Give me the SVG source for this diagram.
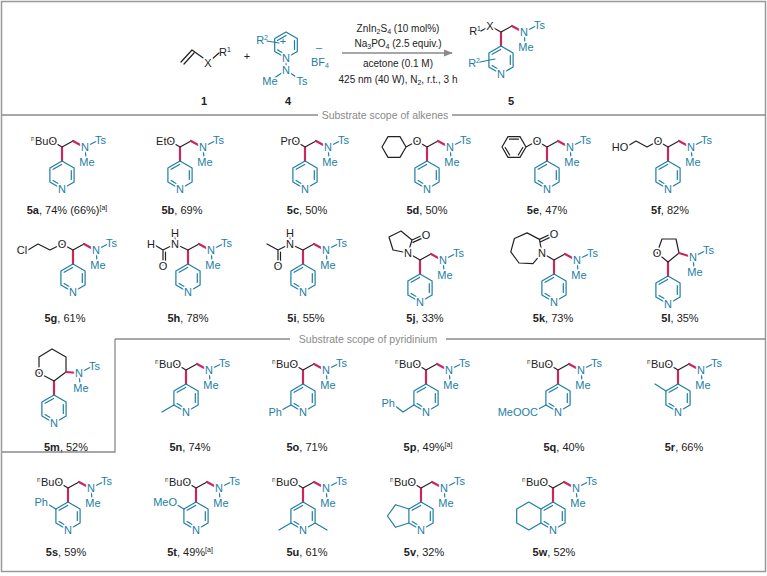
<svg xmlns="http://www.w3.org/2000/svg" xmlns:xlink="http://www.w3.org/1999/xlink" width="767" height="576" viewBox="0 0 767 576">
<style>
.k{stroke:#222;stroke-width:1.2;fill:none;stroke-linecap:round;stroke-linejoin:round}
.t{stroke:#1d7ea3;stroke-width:1.2;fill:none;stroke-linecap:round;stroke-linejoin:round}
.r{stroke:#c8285a;stroke-width:2.2;fill:none;stroke-linecap:round}
.g{stroke:#8a8a8a;stroke-width:1.3;fill:none}
text{font-family:"Liberation Sans",Arial,sans-serif;font-size:11px}
.a{paint-order:stroke;stroke:#fff;stroke-width:3.5px;stroke-linejoin:round}
.ak{fill:#222}
.at{fill:#1d7ea3}
.lb{fill:#222;text-anchor:middle}
.c{fill:#222;text-anchor:middle;font-size:10px}
.sep{fill:#8a8a8a;text-anchor:middle;font-size:10.5px}
.m{text-anchor:middle}
.e{text-anchor:end}
</style>
<defs>
<marker id="arr" viewBox="0 0 10 10" refX="9" refY="5" markerWidth="7" markerHeight="7" orient="auto"><path d="M0,1 L10,5 L0,9 Z" fill="#8a8a8a"/></marker>
<g id="tail">
<path class="t" d="M0,0 L12,-6 M0,0 L1,11"/>
<text class="a at m" x="0" y="4">N</text>
<text class="a at" x="10" y="-3">Ts</text>
<text class="a at m" x="2" y="19">Me</text>
</g>
<g id="pyr">
<path class="r" d="M0,0 L0,14"/>
<path class="t" d="M0,14 L12.1,21 L12.1,35 L0,42 L-12.1,35 L-12.1,21 Z M9.3,23.5 L9.3,32.5 M-8.9,22.3 L-0.4,17.4 M-1.5,37.9 L-8.9,33.6"/>
<text class="a at m" x="0" y="46">N</text>
</g>
<g id="core">
<use href="#pyr"/>
<path class="k" d="M0,0 L11,-6"/>
<path class="r" d="M11,-6 L22,0"/>
<use href="#tail" x="23" y="0"/>
</g>
</defs>

<rect x="1.5" y="1.5" width="764" height="570" fill="#fff" stroke="#999" stroke-width="1.5"/>

<g id="frame">
<path class="g" d="M2,115 H318 M452,115 H766 M115,339 H290 M446,339 H766 M115,339 V452 H2"/>
<text class="sep" x="385" y="119">Substrate scope of alkenes</text>
<text class="sep" x="368" y="343">Substrate scope of pyridinium</text>
</g>

<!-- Top scheme -->
<g id="r1">
<path class="k" d="M181,62 L192,50 M184,64 L194,53 M192,50 L206,60 M211,60 L219,53"/>
<text class="a ak m" x="208" y="67" font-size="10">X</text>
<text class="ak" x="219" y="56" font-size="10">R<tspan font-size="7" dy="-4">1</tspan></text>
<text class="lb" x="204" y="105" font-weight="bold">1</text>
</g>
<text class="ak m" x="247" y="60">+</text>
<g id="r4">
<path class="t" d="M286,32 L297.3,38.5 L297.3,51.5 L286,58 L274.7,51.5 L274.7,38.5 Z M294.5,40.5 L294.5,49.5 M277.5,40.5 L286,35.5 M284.5,54 L277.4,49.8 M267,41 L279,43 M286,58 L286,70 L273,79 M286,70 L299,79"/>
<text class="at e" x="268" y="44">R<tspan font-size="7" dy="-4">2</tspan></text>
<text class="at m" x="283" y="45" font-size="9">+</text>
<text class="a at m" x="286" y="62">N</text>
<text class="a at m" x="286" y="74">N</text>
<text class="a at m" x="270" y="85">Me</text>
<text class="a at m" x="302" y="85">Ts</text>
<text class="at m" x="319" y="51">–</text>
<text class="at m" x="320" y="66">BF<tspan font-size="7" dy="2">4</tspan></text>
<text class="lb" x="288" y="105" font-weight="bold">4</text>
</g>
<g id="cond">
<path class="g" d="M342,53 L452,53" marker-end="url(#arr)"/>
<text class="c" x="398" y="32">ZnIn<tspan font-size="7" dy="2">2</tspan><tspan dy="-2">S</tspan><tspan font-size="7" dy="2">4</tspan><tspan dy="-2"> (10 mol%)</tspan></text>
<text class="c" x="398" y="47">Na<tspan font-size="7" dy="2">3</tspan><tspan dy="-2">PO</tspan><tspan font-size="7" dy="2">4</tspan><tspan dy="-2"> (2.5 equiv.)</tspan></text>
<text class="c" x="398" y="67">acetone (0.1 M)</text>
<text class="c" x="398" y="83">425 nm (40 W), N<tspan font-size="7" dy="2">2</tspan><tspan dy="-2">, r.t., 3 h</tspan></text>
</g>
<g id="p5" transform="translate(501,32)">
<path class="k" d="M0,0 L-11,-6 L-20,-1"/>
<path class="t" d="M-21,30 L-6,27"/>
<use href="#core"/>
<text class="a ak m" x="-11" y="-2" font-size="10">X</text>
<text class="ak e" x="-20" y="3" font-size="10">R<tspan font-size="7" dy="-4">1</tspan></text>
<text class="at e" x="-21" y="35">R<tspan font-size="7" dy="-4">2</tspan></text>
</g>
<text class="lb" x="511" y="105" font-weight="bold">5</text>

<!-- Row 1 -->
<g id="c5a" transform="translate(62,147)"><path class="k" d="M0,0 L-10,-6"/><use href="#core"/>
<text class="a ak e" x="-5" y="-2"><tspan font-size="7" dy="-4">n</tspan><tspan dy="4">BuO</tspan></text></g>
<text class="lb" x="67" y="214"><tspan font-weight="bold">5a</tspan>, 74% (66%)<tspan font-size="7" dy="-4">[a]</tspan></text>

<g id="c5b" transform="translate(180,147)"><path class="k" d="M0,0 L-10,-6"/><use href="#core"/>
<text class="a ak e" x="-5" y="-2">EtO</text></g>
<text class="lb" x="182" y="214"><tspan font-weight="bold">5b</tspan>, 69%</text>

<g id="c5c" transform="translate(305,147)"><path class="k" d="M0,0 L-10,-6"/><use href="#core"/>
<text class="a ak e" x="-5" y="-2">PrO</text></g>
<text class="lb" x="307" y="214"><tspan font-weight="bold">5c</tspan>, 50%</text>

<g id="c5d" transform="translate(427,147)"><path class="k" d="M0,0 L-10,-6 L-21,0 M-21,0 L-27,-10.4 L-39,-10.4 L-45,0 L-39,10.4 L-27,10.4 Z"/><use href="#core"/>
<text class="a ak m" x="-10" y="-2">O</text></g>
<text class="lb" x="427" y="214"><tspan font-weight="bold">5d</tspan>, 50%</text>

<g id="c5e" transform="translate(547,147)"><path class="k" d="M0,0 L-10,-6 L-21,0 M-21,0 L-27,-10.4 L-39,-10.4 L-45,0 L-39,10.4 L-27,10.4 Z M-28.5,-7.8 L-37.5,-7.8 M-41.8,0.5 L-37.3,8 M-28.7,8 L-24.2,0.5"/><use href="#core"/>
<text class="a ak m" x="-10" y="-2">O</text></g>
<text class="lb" x="547" y="214"><tspan font-weight="bold">5e</tspan>, 47%</text>

<g id="c5f" transform="translate(668,147)"><path class="k" d="M0,0 L-10,-6 L-21,0 L-32,-6 L-42,0"/><use href="#core"/>
<text class="a ak m" x="-10" y="-2">O</text><text class="a ak m" x="-48" y="4">HO</text></g>
<text class="lb" x="670" y="214"><tspan font-weight="bold">5f</tspan>, 82%</text>

<!-- Row 2 -->
<g id="c5g" transform="translate(73,250)"><path class="k" d="M0,0 L-11,-6 L-23,0 L-35,-6 L-45,0"/><use href="#core"/>
<text class="a ak m" x="-11" y="-2">O</text><text class="a ak m" x="-51" y="4">Cl</text></g>
<text class="lb" x="65" y="322"><tspan font-weight="bold">5g</tspan>, 61%</text>

<g id="c5h" transform="translate(188,250)"><path class="k" d="M0,0 L-13,-6 L-13,-15 M-13,-6 L-25,0 L-35,-6 M-25,0 L-25,15 M-22.5,2 L-22.5,13"/><use href="#core"/>
<text class="a ak m" x="-13" y="-2">N</text><text class="a ak m" x="-13" y="-13">H</text><text class="a ak m" x="-37" y="-2">H</text><text class="a ak m" x="-25" y="20">O</text></g>
<text class="lb" x="188" y="322"><tspan font-weight="bold">5h</tspan>, 78%</text>

<g id="c5i" transform="translate(303,250)"><path class="k" d="M0,0 L-13,-6 L-13,-15 M-13,-6 L-25,0 L-36,-6 M-25,0 L-25,15 M-22.5,2 L-22.5,13"/><use href="#core"/>
<text class="a ak m" x="-13" y="-2">N</text><text class="a ak m" x="-13" y="-13">H</text><text class="a ak m" x="-25" y="20">O</text></g>
<text class="lb" x="306" y="322"><tspan font-weight="bold">5i</tspan>, 55%</text>

<g id="c5j" transform="translate(420,260)"><path class="k" d="M0,0 L-12,-7 M-12,-7 L-8,-20 L-19,-29 L-31,-23 L-27,-10 Z M-8,-20 L3,-25 M-7,-17.6 L4,-22.6"/><use href="#core"/>
<text class="a ak m" x="-12" y="-3">N</text><text class="a ak m" x="6" y="-21">O</text></g>
<text class="lb" x="425" y="322"><tspan font-weight="bold">5j</tspan>, 33%</text>

<g id="c5k" transform="translate(554,260)"><path class="k" d="M0,0 L-12,-7 M-12,-7 L-14.6,-20.6 L-26.9,-27.1 L-39.6,-21.5 L-43.2,-8.1 L-35,3 L-21.1,3.6 Z M-14.6,-20.6 L-3,-26 M-13.3,-18.2 L-2,-23.6"/><use href="#core"/>
<text class="a ak m" x="-12" y="-3">N</text><text class="a ak m" x="0" y="-22">O</text></g>
<text class="lb" x="553" y="322"><tspan font-weight="bold">5k</tspan>, 73%</text>

<g id="c5l" transform="translate(668,262)"><use href="#pyr"/><path class="k" d="M0,0 L11,-9 L8,-23 L-6,-23 L-11,-9 Z"/><path class="r" d="M11,-9 L24,-5"/><use href="#tail" x="25" y="-5"/>
<text class="a ak m" x="-11" y="-5">O</text></g>
<text class="lb" x="680" y="322"><tspan font-weight="bold">5l</tspan>, 35%</text>

<!-- Row 3 -->
<g id="c5m" transform="translate(54,381)"><use href="#pyr"/><path class="k" d="M0,0 L12,-9 L12,-24 L-2,-32 L-15,-24 L-15,-8 Z"/><path class="r" d="M12,-9 L24,-8"/><use href="#tail" x="25" y="-8"/>
<text class="a ak m" x="-15" y="-4">O</text></g>
<text class="lb" x="66" y="451"><tspan font-weight="bold">5m</tspan>, 52%</text>

<g id="c5n" transform="translate(186,370)"><path class="k" d="M0,0 L-10,-6"/><path class="t" d="M-12.1,35 L-24,42"/><use href="#core"/>
<text class="a ak e" x="-5" y="-2"><tspan font-size="7" dy="-4">n</tspan><tspan dy="4">BuO</tspan></text></g>
<text class="lb" x="190" y="451"><tspan font-weight="bold">5n</tspan>, 74%</text>

<g id="c5o" transform="translate(303,370)"><path class="k" d="M0,0 L-10,-6"/><path class="t" d="M-12.1,35 L-23,41"/><use href="#core"/>
<text class="a ak e" x="-5" y="-2"><tspan font-size="7" dy="-4">n</tspan><tspan dy="4">BuO</tspan></text><text class="a at e" x="-21" y="46">Ph</text></g>
<text class="lb" x="307" y="451"><tspan font-weight="bold">5o</tspan>, 71%</text>

<g id="c5p" transform="translate(426,370)"><path class="k" d="M0,0 L-10,-6"/><path class="t" d="M-12.1,35 L-23,42 L-32,35"/><use href="#core"/>
<text class="a ak e" x="-5" y="-2"><tspan font-size="7" dy="-4">n</tspan><tspan dy="4">BuO</tspan></text><text class="a at e" x="-31" y="37">Ph</text></g>
<text class="lb" x="428" y="451"><tspan font-weight="bold">5p</tspan>, 49%<tspan font-size="7" dy="-4">[a]</tspan></text>

<g id="c5q" transform="translate(558,370)"><path class="k" d="M0,0 L-10,-6"/><path class="t" d="M-12.1,35 L-23,41"/><use href="#core"/>
<text class="a ak e" x="-5" y="-2"><tspan font-size="7" dy="-4">n</tspan><tspan dy="4">BuO</tspan></text><text class="a at e" x="-20" y="46">MeOOC</text></g>
<text class="lb" x="564" y="451"><tspan font-weight="bold">5q</tspan>, 40%</text>

<g id="c5r" transform="translate(678,370)"><path class="k" d="M0,0 L-10,-6"/><path class="t" d="M-12.1,21 L-23,14"/><use href="#core"/>
<text class="a ak e" x="-5" y="-2"><tspan font-size="7" dy="-4">n</tspan><tspan dy="4">BuO</tspan></text></g>
<text class="lb" x="684" y="451"><tspan font-weight="bold">5r</tspan>, 66%</text>

<!-- Row 4 -->
<g id="c5s" transform="translate(68,488)"><path class="k" d="M0,0 L-10,-6"/><path class="t" d="M-12.1,21 L-22,15"/><use href="#core"/>
<text class="a ak e" x="-5" y="-2"><tspan font-size="7" dy="-4">n</tspan><tspan dy="4">BuO</tspan></text><text class="a at e" x="-20" y="18">Ph</text></g>
<text class="lb" x="66" y="556"><tspan font-weight="bold">5s</tspan>, 59%</text>

<g id="c5t" transform="translate(196,488)"><path class="k" d="M0,0 L-10,-6"/><path class="t" d="M-12.1,21 L-22,15"/><use href="#core"/>
<text class="a ak e" x="-5" y="-2"><tspan font-size="7" dy="-4">n</tspan><tspan dy="4">BuO</tspan></text><text class="a at e" x="-19" y="18">MeO</text></g>
<text class="lb" x="190" y="556"><tspan font-weight="bold">5t</tspan>, 49%<tspan font-size="7" dy="-4">[a]</tspan></text>

<g id="c5u" transform="translate(303,488)"><path class="k" d="M0,0 L-10,-6"/><path class="t" d="M-12.1,35 L-24,42 M12.1,35 L24,42"/><use href="#core"/>
<text class="a ak e" x="-5" y="-2"><tspan font-size="7" dy="-4">n</tspan><tspan dy="4">BuO</tspan></text></g>
<text class="lb" x="307" y="556"><tspan font-weight="bold">5u</tspan>, 61%</text>

<g id="c5v" transform="translate(421,488)"><path class="k" d="M0,0 L-10,-6"/><path class="t" d="M-12.1,21 L-25.4,16.7 L-33.6,28 L-25.4,39.3 L-12.1,35"/><use href="#core"/>
<text class="a ak e" x="-5" y="-2"><tspan font-size="7" dy="-4">n</tspan><tspan dy="4">BuO</tspan></text></g>
<text class="lb" x="424" y="556"><tspan font-weight="bold">5v</tspan>, 32%</text>

<g id="c5w" transform="translate(553,488)"><path class="k" d="M0,0 L-10,-6"/><path class="t" d="M-12.1,21 L-24.2,14 L-36.3,21 L-36.3,35 L-24.2,42 L-12.1,35"/><use href="#core"/>
<text class="a ak e" x="-5" y="-2"><tspan font-size="7" dy="-4">n</tspan><tspan dy="4">BuO</tspan></text></g>
<text class="lb" x="554" y="556"><tspan font-weight="bold">5w</tspan>, 52%</text>
</svg>
